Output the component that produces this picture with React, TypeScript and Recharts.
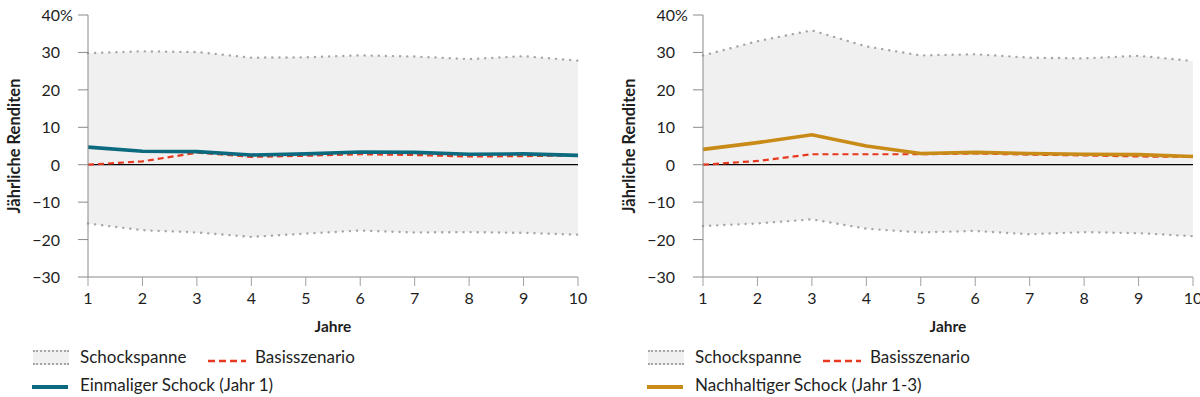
import React from 'react';
import {
  ComposedChart,
  Area,
  Line,
  XAxis,
  YAxis,
  ReferenceLine,
} from 'recharts';

const years = [1, 2, 3, 4, 5, 6, 7, 8, 9, 10];
const yTicks = [-30, -20, -10, 0, 10, 20, 30, 40];

// left panel: one-off shock
const leftHigh = [29.8, 30.3, 30.1, 28.6, 28.7, 29.2, 28.9, 28.2, 29.0, 27.8];
const leftLow = [-15.7, -17.5, -18.1, -19.3, -18.4, -17.6, -18.1, -18.0, -18.2, -18.7];
const leftBase = [0, 0.9, 3.2, 2.1, 2.4, 2.8, 2.6, 2.2, 2.3, 2.5];
const leftShock = [4.7, 3.6, 3.5, 2.6, 2.9, 3.4, 3.3, 2.8, 2.9, 2.5];

// right panel: sustained shock
const rightHigh = [29.2, 33.0, 35.9, 31.6, 29.2, 29.5, 28.6, 28.4, 29.1, 27.7];
const rightLow = [-16.4, -15.7, -14.6, -17.1, -18.1, -17.7, -18.6, -18.0, -18.3, -19.1];
const rightBase = [0, 1.0, 2.8, 2.8, 2.8, 3.0, 2.7, 2.5, 2.2, 2.1];
const rightShock = [4.1, 5.9, 8.0, 5.0, 3.0, 3.3, 3.0, 2.8, 2.7, 2.2];

const FONT = 'Lato, "Noto Sans", sans-serif';
const TEXT = '#1e1e1e';
const AXIS = '#8a8a8a';
const BAND = '#f0f0f0';
const DOTS = '#a6a6a6';
const RED = '#e6391f';

const buildData = (high: number[], low: number[], base: number[], shock: number[]) =>
  years.map((year, i) => ({ year, high: high[i], low: low[i], base: base[i], shock: shock[i] }));

const YTick = (props: any) => {
  const { x, y, payload } = props;
  const v = payload.value;
  const label = v < 0 ? `\u2212${Math.abs(v)}` : `${v}`;
  return (
    <g>
      <text x={x} y={y} dy={6} textAnchor="end" fontSize={16} fill={TEXT} fontFamily={FONT}>
        {label}
      </text>
      {v === 40 && (
        <text x={x} y={y} dy={6} textAnchor="start" fontSize={16} fill={TEXT} fontFamily={FONT}>
          %
        </text>
      )}
    </g>
  );
};

const XTick = (props: any) => {
  const { x, y, payload } = props;
  return (
    <text x={x} y={y} dy={11} textAnchor="middle" fontSize={16} fill={TEXT} fontFamily={FONT}>
      {payload.value}
    </text>
  );
};

const YLabel = (props: any) => {
  const vb = props.viewBox;
  const cx = 20;
  const cy = vb.y + vb.height / 2;
  return (
    <text
      x={cx}
      y={cy}
      transform={`rotate(-90, ${cx}, ${cy})`}
      textAnchor="middle"
      fontSize={16.5}
      fontWeight={700}
      fill={TEXT}
      fontFamily={FONT}
    >
      Jährliche Renditen
    </text>
  );
};

const XLabel = (props: any) => {
  const vb = props.viewBox;
  return (
    <text
      x={vb.x + vb.width / 2}
      y={vb.y + 55}
      textAnchor="middle"
      fontSize={15.5}
      fontWeight={700}
      fill={TEXT}
      fontFamily={FONT}
    >
      Jahre
    </text>
  );
};

interface PanelProps {
  high: number[];
  low: number[];
  base: number[];
  shock: number[];
  color: string;
  shockLabel: string;
  width: number;
  right: number;
}

function Panel({ high, low, base, shock, color, shockLabel, width, right }: PanelProps) {
  const data = buildData(high, low, base, shock);
  const legendText: React.CSSProperties = {
    position: 'absolute',
    fontSize: 17,
    color: TEXT,
    lineHeight: '20px',
    whiteSpace: 'nowrap',
  };
  return (
    <div style={{ position: 'relative', width, height: 397 }}>
      <ComposedChart
        width={width}
        height={342}
        data={data}
        margin={{ top: 15, right, bottom: 0, left: 0 }}
      >
        <XAxis
          dataKey="year"
          type="number"
          domain={[1, 10]}
          ticks={years}
          interval={0}
          stroke={AXIS}
          tickSize={9}
          tickMargin={7}
          height={65}
          tick={<XTick />}
          tickLine={{ stroke: '#a0a0a0' }}
          label={<XLabel />}
        />
        <YAxis
          type="number"
          domain={[-30, 40]}
          ticks={yTicks}
          interval={0}
          width={88}
          stroke={AXIS}
          tickSize={10}
          tickMargin={18}
          tick={<YTick />}
          label={<YLabel />}
        />
        <Area
          dataKey={(d: any) => [d.low, d.high]}
          type="linear"
          fill={BAND}
          fillOpacity={1}
          stroke="none"
          isAnimationActive={false}
        />
        <ReferenceLine y={0} stroke="#000" strokeWidth={1.3} />
        <Line
          dataKey="high"
          type="linear"
          stroke={DOTS}
          strokeWidth={2.4}
          strokeDasharray="0.1 7"
          strokeLinecap="round"
          dot={false}
          isAnimationActive={false}
        />
        <Line
          dataKey="low"
          type="linear"
          stroke={DOTS}
          strokeWidth={2.4}
          strokeDasharray="0.1 7"
          strokeLinecap="round"
          dot={false}
          isAnimationActive={false}
        />
        <Line
          dataKey="base"
          type="linear"
          stroke={RED}
          strokeWidth={2.2}
          strokeDasharray="6 4"
          dot={false}
          isAnimationActive={false}
        />
        <Line
          dataKey="shock"
          type="linear"
          stroke={color}
          strokeWidth={3.6}
          dot={false}
          isAnimationActive={false}
        />
      </ComposedChart>

      {/* legend */}
      <div
        style={{
          position: 'absolute',
          left: 33,
          top: 350,
          width: 36,
          height: 11,
          background: BAND,
          borderTop: `2px dotted ${DOTS}`,
          borderBottom: `2px dotted ${DOTS}`,
        }}
      />
      <div style={{ ...legendText, left: 80, top: 347 }}>Schockspanne</div>
      <svg style={{ position: 'absolute', left: 208, top: 358 }} width={38} height={6}>
        <line x1={0} y1={3} x2={38} y2={3} stroke={RED} strokeWidth={2.4} strokeDasharray="7 4" />
      </svg>
      <div style={{ ...legendText, left: 255, top: 347 }}>Basisszenario</div>
      <div
        style={{ position: 'absolute', left: 32, top: 385, width: 36, height: 4, background: color }}
      />
      <div style={{ ...legendText, left: 80, top: 375 }}>{shockLabel}</div>
    </div>
  );
}

export default function App() {
  return (
    <div
      style={{
        position: 'absolute',
        top: 0,
        left: 0,
        width: 1200,
        height: 397,
        overflow: 'hidden',
        background: '#fff',
        fontFamily: FONT,
      }}
    >
      <div style={{ position: 'absolute', left: 0, top: 0 }}>
        <Panel
          high={leftHigh}
          low={leftLow}
          base={leftBase}
          shock={leftShock}
          color="#0c6a7e"
          shockLabel="Einmaliger Schock (Jahr 1)"
          width={600}
          right={22}
        />
      </div>
      <div style={{ position: 'absolute', left: 615, top: 0 }}>
        <Panel
          high={rightHigh}
          low={rightLow}
          base={rightBase}
          shock={rightShock}
          color="#c98b17"
          shockLabel="Nachhaltiger Schock (Jahr 1-3)"
          width={585}
          right={7}
        />
      </div>
    </div>
  );
}
